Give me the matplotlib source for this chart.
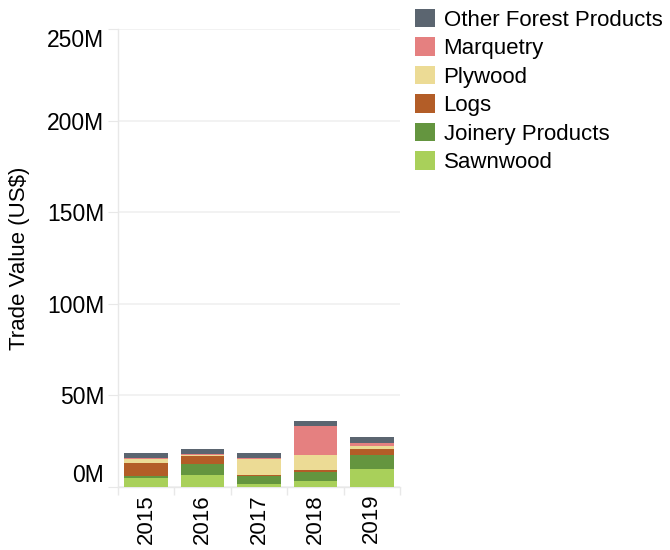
import matplotlib
matplotlib.use("Agg")
import matplotlib.pyplot as plt
import numpy as np
from matplotlib.patches import Patch

plt.rcParams['font.family'] = ['Liberation Sans', 'DejaVu Sans']

years = ["2015", "2016", "2017", "2018", "2019"]
series_names = ["Sawnwood", "Joinery Products", "Logs", "Plywood", "Marquetry", "Other Forest Products"]
sawnwood = [4.7, 6.4, 1.5, 3.1, 9.6]
joinery = [1.1, 6.0, 4.4, 4.9, 7.6]
logs = [7.1, 4.5, 0.5, 1.5, 3.8]
plywood = [2.2, 0.4, 8.7, 7.8, 1.5]
marquetry = [0.7, 0.7, 0.7, 15.8, 1.3]
other = [2.7, 2.5, 2.7, 2.7, 3.3]
colors = ["#a9d05a", "#64953f", "#b35d27", "#ecdb95", "#e58080", "#5b6570"]
y_ticks = [0, 50, 100, 150, 200, 250]
y_labels = ["0M", "50M", "100M", "150M", "200M", "250M"]

values = [sawnwood, joinery, logs, plywood, marquetry, other]

fig = plt.figure(figsize=(6.7, 5.5), dpi=100)
ax = fig.add_axes([118/670, 1 - 487/550, (400-118)/670, (487-29)/550])

x = np.arange(len(years))
bottom = np.zeros(len(years))
for name, vals, c in zip(series_names, values, colors):
    ax.bar(x, vals, width=0.77, bottom=bottom, color=c, label=name, zorder=3, linewidth=0)
    bottom += np.array(vals)

ax.set_xlim(-0.5, len(years) - 0.5)
ax.set_ylim(0, 250)
ax.set_yticks(y_ticks)
ax.set_yticklabels(y_labels, fontsize=16.5)
ax.yaxis.grid(True, color="#f0f0f0", linewidth=1.2, zorder=0)
ax.tick_params(axis='y', length=7, color="#e8e8e8", pad=3)
labs = ax.get_yticklabels()
labs[0].set_va('bottom')
labs[-1].set_va('top')

ax.set_xticks(x)
ax.set_xticklabels(years, rotation=90, fontsize=16)
ax.tick_params(axis='x', length=0, pad=5)
ax.set_xticks(np.arange(-0.5, len(years)), minor=True)
ax.tick_params(axis='x', which='minor', length=6, color="#e8e8e8", width=1)

for s in ['top', 'right']:
    ax.spines[s].set_visible(False)
for s in ['left', 'bottom']:
    ax.spines[s].set_color("#e8e8e8")
    ax.spines[s].set_linewidth(1)

ax.set_ylabel("Trade Value (US$)", fontsize=16, labelpad=12)

handles = [Patch(facecolor=c, edgecolor='none') for c in colors][::-1]
labels = series_names[::-1]
fig.legend(handles, labels, loc='upper left', bbox_to_anchor=(408/670, 1 - 2/550),
           frameon=False, fontsize=16, handlelength=0.9, handleheight=0.9,
           handletextpad=0.4, labelspacing=0.3, borderaxespad=0, borderpad=0.3)

fig.savefig("out.png", dpi=100)
